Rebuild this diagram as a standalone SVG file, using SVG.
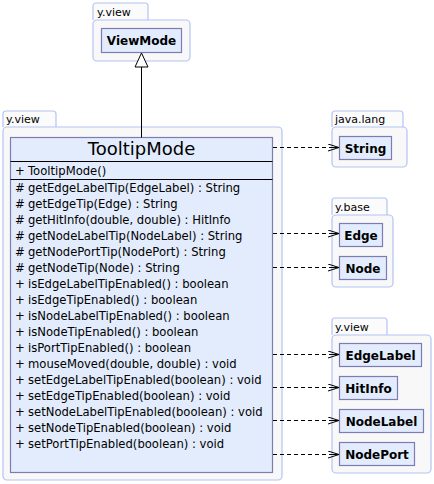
<svg xmlns="http://www.w3.org/2000/svg" width="434" height="484" viewBox="0 0 434 484">
<style>
.pkg{fill:#f8f8f8;stroke:#b4c4f4;stroke-width:1.2}
.tab{fill:#fbfbfb;stroke:#b4c4f4;stroke-width:1.2}
.pl{font-family:"DejaVu Sans",sans-serif;font-size:11px;fill:#000}
.cls{fill:#e2ecfc;stroke:#7c7cb4;stroke-width:1.2}
.cn{font-family:"DejaVu Sans",sans-serif;font-size:12px;font-weight:bold;fill:#000;text-anchor:middle}
.t{font-family:"DejaVu Sans",sans-serif;font-size:11.6px;fill:#000}
.ttl{font-family:"DejaVu Sans",sans-serif;font-size:18px;fill:#000;text-anchor:middle}
.sep{stroke:#000;stroke-width:1}
.dep{stroke:#000;stroke-width:1;stroke-dasharray:4,3;fill:none;marker-end:url(#open)}
</style>
<defs>
<marker id="open" markerWidth="12" markerHeight="8" refX="11" refY="4" orient="auto" markerUnits="userSpaceOnUse">
<path d="M0,0.5 L11,4 L0,7.5 M1,4 L11,4" fill="none" stroke="#000" stroke-width="1"/>
</marker>
</defs>

<g id="pkg-yview-top">
<path class="tab" d="M93,20 V6 a3,3 0 0 1 3,-3 H145 a3,3 0 0 1 3,3 V20"/>
<rect class="pkg" x="93" y="20" width="97" height="41" rx="4"/>
<text class="pl" x="97" y="16">y.view</text>
</g>
<g id="ViewMode">
<rect class="cls" x="101.5" y="28.5" width="80" height="24"/>
<text class="cn" x="141.5" y="45">ViewMode</text>
</g>

<g id="pkg-yview-left">
<path class="tab" d="M3,127 V114 a3,3 0 0 1 3,-3 H53 a3,3 0 0 1 3,3 V127"/>
<rect class="pkg" x="3" y="127" width="279" height="353" rx="4"/>
<text class="pl" x="6" y="123">y.view</text>
</g>
<g id="TooltipMode">
<rect class="cls" x="10.5" y="137.5" width="262" height="335"/>
<line class="sep" x1="10.5" y1="161.5" x2="272.5" y2="161.5"/>
<line class="sep" x1="10.5" y1="179.5" x2="272.5" y2="179.5"/>
<text class="ttl" x="141.5" y="155">TooltipMode</text>
<text class="t" x="15" y="175">+</text><text class="t" x="28" y="175">TooltipMode()</text>
<text class="t" x="15" y="192">#</text><text class="t" x="28" y="192">getEdgeLabelTip(EdgeLabel) : String</text>
<text class="t" x="15" y="208">#</text><text class="t" x="28" y="208">getEdgeTip(Edge) : String</text>
<text class="t" x="15" y="224">#</text><text class="t" x="28" y="224">getHitInfo(double, double) : HitInfo</text>
<text class="t" x="15" y="240">#</text><text class="t" x="28" y="240">getNodeLabelTip(NodeLabel) : String</text>
<text class="t" x="15" y="256">#</text><text class="t" x="28" y="256">getNodePortTip(NodePort) : String</text>
<text class="t" x="15" y="272">#</text><text class="t" x="28" y="272">getNodeTip(Node) : String</text>
<text class="t" x="15" y="288">+</text><text class="t" x="28" y="288">isEdgeLabelTipEnabled() : boolean</text>
<text class="t" x="15" y="304">+</text><text class="t" x="28" y="304">isEdgeTipEnabled() : boolean</text>
<text class="t" x="15" y="320">+</text><text class="t" x="28" y="320">isNodeLabelTipEnabled() : boolean</text>
<text class="t" x="15" y="336">+</text><text class="t" x="28" y="336">isNodeTipEnabled() : boolean</text>
<text class="t" x="15" y="352">+</text><text class="t" x="28" y="352">isPortTipEnabled() : boolean</text>
<text class="t" x="15" y="368">+</text><text class="t" x="28" y="368">mouseMoved(double, double) : void</text>
<text class="t" x="15" y="384">+</text><text class="t" x="28" y="384">setEdgeLabelTipEnabled(boolean) : void</text>
<text class="t" x="15" y="400">+</text><text class="t" x="28" y="400">setEdgeTipEnabled(boolean) : void</text>
<text class="t" x="15" y="416">+</text><text class="t" x="28" y="416">setNodeLabelTipEnabled(boolean) : void</text>
<text class="t" x="15" y="432">+</text><text class="t" x="28" y="432">setNodeTipEnabled(boolean) : void</text>
<text class="t" x="15" y="448">+</text><text class="t" x="28" y="448">setPortTipEnabled(boolean) : void</text>
</g>

<g id="pkg-javalang">
<path class="tab" d="M332,127 V114 a3,3 0 0 1 3,-3 H400 a3,3 0 0 1 3,3 V127"/>
<rect class="pkg" x="332" y="127" width="75" height="40" rx="4"/>
<text class="pl" x="335" y="123">java.lang</text>
</g>
<g id="String">
<rect class="cls" x="339.5" y="136.5" width="52" height="23"/>
<text class="cn" x="365.5" y="152.5">String</text>
</g>

<g id="pkg-ybase">
<path class="tab" d="M332,215 V201 a3,3 0 0 1 3,-3 H384 a3,3 0 0 1 3,3 V215"/>
<rect class="pkg" x="332" y="215" width="61" height="72" rx="4"/>
<text class="pl" x="335" y="211">y.base</text>
</g>
<g id="Edge">
<rect class="cls" x="339.5" y="223.5" width="43" height="23"/>
<text class="cn" x="361" y="239.5">Edge</text>
</g>
<g id="Node">
<rect class="cls" x="339.5" y="256.5" width="47" height="23"/>
<text class="cn" x="363" y="272.5">Node</text>
</g>

<g id="pkg-yview-right">
<path class="tab" d="M332,335 V321 a3,3 0 0 1 3,-3 H384 a3,3 0 0 1 3,3 V335"/>
<rect class="pkg" x="332" y="335" width="99" height="138" rx="4"/>
<text class="pl" x="335" y="331">y.view</text>
</g>
<g id="EdgeLabel">
<rect class="cls" x="339.5" y="343.5" width="82" height="23"/>
<text class="cn" x="380.5" y="359.5">EdgeLabel</text>
</g>
<g id="HitInfo">
<rect class="cls" x="339.5" y="376.5" width="58" height="23"/>
<text class="cn" x="368.5" y="392.5">HitInfo</text>
</g>
<g id="NodeLabel">
<rect class="cls" x="339.5" y="409.5" width="84" height="23"/>
<text class="cn" x="381.5" y="425.5">NodeLabel</text>
</g>
<g id="NodePort">
<rect class="cls" x="339.5" y="442.5" width="75" height="23"/>
<text class="cn" x="377" y="458.5">NodePort</text>
</g>

<g id="connectors">
<line x1="141.5" y1="67" x2="141.5" y2="137.5" stroke="#000" stroke-width="1"/>
<polygon points="141.5,53 135,67 148,67" fill="#fff" stroke="#000" stroke-width="1"/>
<line class="dep" x1="273" y1="147.5" x2="339" y2="147.5"/>
<line class="dep" x1="273" y1="233.5" x2="339" y2="233.5"/>
<line class="dep" x1="273" y1="267.5" x2="339" y2="267.5"/>
<line class="dep" x1="273" y1="354.5" x2="339" y2="354.5"/>
<line class="dep" x1="273" y1="387.5" x2="339" y2="387.5"/>
<line class="dep" x1="273" y1="420.5" x2="339" y2="420.5"/>
<line class="dep" x1="273" y1="454.5" x2="339" y2="454.5"/>
</g>
</svg>
